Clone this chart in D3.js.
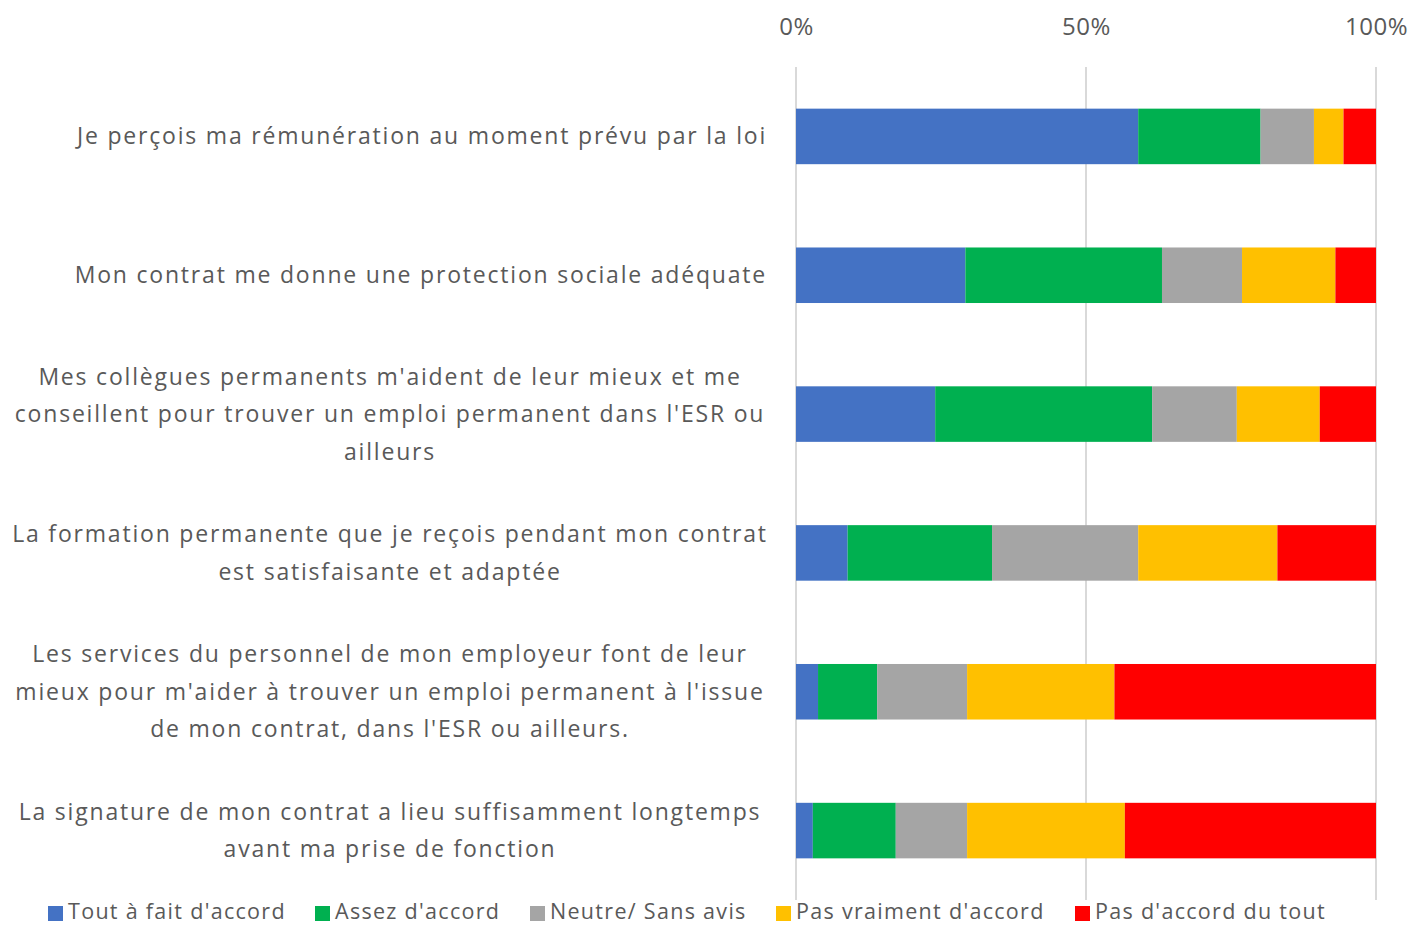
<!DOCTYPE html>
<html lang="fr">
<head>
    <meta charset="UTF-8">
    <title>Contrats - avis</title>
    <script src="https://d3js.org/d3.v7.min.js"></script>
    <style>
        body { margin: 0; background: #fff; }
        text { font-family: "Open Sans", "Noto Sans", sans-serif; fill: #595959; }
    </style>
</head>
<body>
    <svg width="1412" height="925"></svg>

    <script>
        // categories (line breaks as in the original)
        const categories = [
            ["Je perçois ma rémunération au moment prévu par la loi"],
            ["Mon contrat me donne une protection sociale adéquate"],
            ["Mes collègues permanents m'aident de leur mieux et me",
             "conseillent pour trouver un emploi permanent dans l'ESR ou",
             "ailleurs"],
            ["La formation permanente que je reçois pendant mon contrat",
             "est satisfaisante et adaptée"],
            ["Les services du personnel de mon employeur font de leur",
             "mieux pour m'aider à trouver un emploi permanent à l'issue",
             "de mon contrat, dans l'ESR ou ailleurs."],
            ["La signature de mon contrat a lieu suffisamment longtemps",
             "avant ma prise de fonction"]
        ];

        const seriesNames = ["Tout à fait d'accord", "Assez d'accord", "Neutre/ Sans avis",
                             "Pas vraiment d'accord", "Pas d'accord du tout"];
        const seriesColors = ["#4472C4", "#00B050", "#A5A5A5", "#FFC000", "#FF0000"];

        // percentages per series, one value per category
        const toutAFait   = [59.0, 29.2, 24.0,  8.9,  3.8,  2.9];
        const assez       = [21.1, 33.9, 37.4, 24.9, 10.2, 14.3];
        const neutre      = [ 9.2, 13.8, 14.6, 25.2, 15.5, 12.3];
        const pasVraiment = [ 5.1, 16.1, 14.3, 24.0, 25.4, 27.2];
        const pasDuTout   = [ 5.6,  7.0,  9.7, 17.0, 45.1, 43.3];

        const tickValues = [0, 0.5, 1];

        const plotLeft = 796, plotRight = 1376, plotTop = 67, plotBottom = 900;

        const svg = d3.select("svg");

        const series = [toutAFait, assez, neutre, pasVraiment, pasDuTout];
        const rows = categories.map((c, i) => {
            const total = d3.sum(series, s => s[i]);
            const r = { idx: i };
            series.forEach((s, k) => r["s" + k] = s[i] / total);
            return r;
        });
        const keys = series.map((s, k) => "s" + k);
        const stacked = d3.stack().keys(keys)(rows);

        const x = d3.scaleLinear().domain([0, 1]).range([plotLeft, plotRight]);
        const y = d3.scaleBand().domain(d3.range(categories.length)).range([plotTop, plotBottom]).paddingInner(0.6).paddingOuter(0.3);

        // gridlines
        svg.append("g")
            .selectAll("line")
            .data(tickValues)
            .join("line")
            .attr("x1", d => x(d)).attr("x2", d => x(d))
            .attr("y1", plotTop).attr("y2", plotBottom)
            .attr("stroke", "#D9D9D9")
            .attr("stroke-width", 2);

        // top axis labels
        const xAxis = d3.axisTop(x).tickValues(tickValues).tickFormat(d3.format(".0%")).tickSize(0).tickPadding(0);
        const ax = svg.append("g").attr("transform", "translate(0,35)").call(xAxis);
        ax.select(".domain").remove();
        ax.attr("font-family", null).attr("font-size", null);
        ax.selectAll("text")
            .style("font-size", "24px")
            .attr("letter-spacing", "0.5px")
            .attr("fill", "#595959");

        // bars
        svg.append("g")
            .selectAll("g")
            .data(stacked)
            .join("g")
            .attr("fill", (d, k) => seriesColors[k])
            .selectAll("rect")
            .data(d => d)
            .join("rect")
            .attr("x", d => x(d[0]))
            .attr("width", d => x(d[1]) - x(d[0]))
            .attr("y", d => y(d.data.idx))
            .attr("height", y.bandwidth());

        // category labels
        const lineH = 37.5;
        const lab = svg.append("g")
            .selectAll("text")
            .data(categories)
            .join("text")
            .style("font-size", "23px")
            .attr("letter-spacing", "1.8px")
            .attr("text-anchor", d => d.length === 1 ? "end" : "middle")
            .attr("transform", (d, i) => {
                const cy = y(i) + y.bandwidth() / 2;
                return `translate(${d.length === 1 ? 767 : 390},${cy - (d.length - 1) * lineH / 2})`;
            });
        lab.selectAll("tspan")
            .data(d => d)
            .join("tspan")
            .attr("x", 0)
            .attr("y", (d, j) => j * lineH)
            .attr("dy", "0.35em")
            .text(d => d);

        // legend
        const legendX = [48, 315, 530, 776, 1075];
        const leg = svg.append("g")
            .selectAll("g")
            .data(seriesNames)
            .join("g")
            .attr("transform", (d, k) => `translate(${legendX[k]},911)`);
        leg.append("rect")
            .attr("x", 0).attr("y", -5)
            .attr("width", 15).attr("height", 15)
            .attr("fill", (d, k) => seriesColors[k]);
        leg.append("text")
            .attr("x", 20)
            .attr("y", 0)
            .attr("dy", "0.35em")
            .style("font-size", "21.5px")
            .attr("letter-spacing", "1.3px")
            .text(d => d);
    </script>
</body>
</html>
